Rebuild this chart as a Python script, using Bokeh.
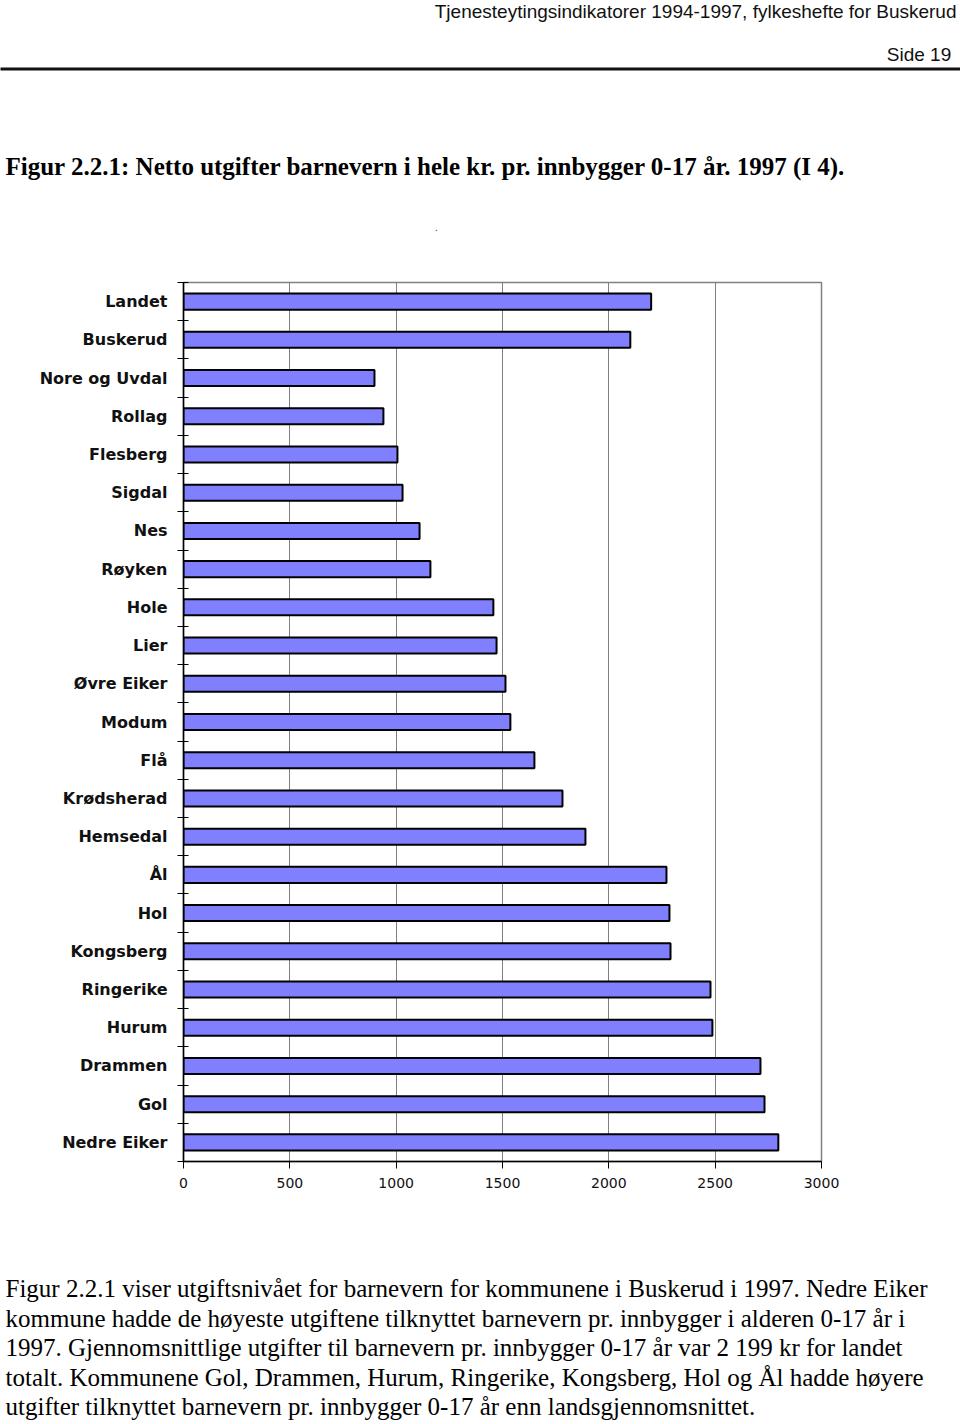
from bokeh.plotting import figure
from bokeh.models import Range1d, FixedTicker, ColumnDataSource, Label
from bokeh.embed import file_html
from bokeh.resources import INLINE

categories = ["Landet", "Buskerud", "Nore og Uvdal", "Rollag", "Flesberg", "Sigdal", "Nes",
              "Røyken", "Hole", "Lier", "Øvre Eiker", "Modum", "Flå", "Krødsherad", "Hemsedal",
              "Ål", "Hol", "Kongsberg", "Ringerike", "Hurum", "Drammen", "Gol", "Nedre Eiker"]
values = [2199, 2101, 898, 940, 1006, 1030, 1110, 1161, 1457, 1472, 1514, 1537, 1650, 1782,
          1890, 2271, 2285, 2290, 2478, 2487, 2713, 2732, 2797]
x_ticks = [0, 500, 1000, 1500, 2000, 2500, 3000]

header_text = "Tjenesteytingsindikatorer 1994-1997, fylkeshefte for Buskerud"
page_text = "Side  19"
title_text = "Figur 2.2.1: Netto utgifter barnevern i hele kr. pr. innbygger 0-17 år. 1997 (I 4)."
body_lines = [
    "Figur 2.2.1 viser utgiftsnivået for barnevern for kommunene i Buskerud i 1997.  Nedre Eiker",
    "kommune hadde de høyeste utgiftene tilknyttet barnevern pr. innbygger i alderen 0-17 år i",
    "1997.  Gjennomsnittlige utgifter til barnevern pr. innbygger 0-17 år var  2 199 kr for landet",
    "totalt. Kommunene Gol, Drammen, Hurum, Ringerike, Kongsberg, Hol og Ål hadde høyere",
    "utgifter  tilknyttet barnevern pr. innbygger 0-17 år enn landsgjennomsnittet.",
]

n = len(categories)
src = ColumnDataSource(dict(y=list(range(n)), v=values, name=categories))

p = figure(frame_width=638, frame_height=879,
           min_border_left=183, min_border_right=139, min_border_top=282, min_border_bottom=263,
           x_range=Range1d(0, 3000), y_range=Range1d(n - 0.5, -0.5),
           output_backend="svg", toolbar_location=None)
p.hbar(y="y", right="v", left=0, height=0.42, source=src,
       fill_color="#8080FF", line_color="#000000", line_width=2)

p.ygrid.visible = False
p.xgrid.ticker = FixedTicker(ticks=x_ticks)
p.xgrid.grid_line_color = "#808080"
p.xgrid.grid_line_width = 1
p.outline_line_color = "#808080"
p.outline_line_width = 1.5
p.background_fill_color = "white"
p.border_fill_color = "white"

p.yaxis.ticker = FixedTicker(ticks=list(range(n)), minor_ticks=[i - 0.5 for i in range(n + 1)])
p.yaxis.major_label_overrides = {i: c for i, c in enumerate(categories)}
p.yaxis.major_tick_in = 0
p.yaxis.major_tick_out = 0
p.yaxis.minor_tick_in = 5
p.yaxis.minor_tick_out = 6
p.yaxis.minor_tick_line_color = "#000000"
p.yaxis.axis_line_color = "#000000"
p.yaxis.axis_line_width = 1.5
p.yaxis.major_label_standoff = 10
p.yaxis.major_label_text_font = "DejaVu Sans"
p.yaxis.major_label_text_font_style = "bold"
p.yaxis.major_label_text_font_size = "16px"
p.yaxis.major_label_text_color = "#111111"

p.xaxis.ticker = FixedTicker(ticks=x_ticks)
p.xaxis.major_tick_in = 0
p.xaxis.major_tick_out = 7
p.xaxis.major_tick_line_color = "#000000"
p.xaxis.axis_line_color = "#000000"
p.xaxis.axis_line_width = 1.5
p.xaxis.major_label_standoff = 9
p.xaxis.major_label_text_font = "DejaVu Sans"
p.xaxis.major_label_text_font_size = "14px"
p.xaxis.major_label_text_color = "#111111"


def canvas_label(side, x, y, text, **kw):
    p.add_layout(Label(x=x, y=y, x_units="canvas", y_units="canvas", text=text, **kw), side)


# header
canvas_label("above", 956, 0, header_text, text_align="right", text_baseline="top",
             text_font="Liberation Sans", text_font_size="19px", text_color="#111111")
canvas_label("above", 956, 54, page_text, text_align="right", text_baseline="alphabetic",
             text_font="Liberation Sans", text_font_size="19px", text_color="#111111")
# horizontal rule under the page header (thin filled box of a blank label)
canvas_label("above", 0, 67, " ", text_align="left", text_baseline="top",
             text_font="Liberation Sans", text_font_size="1px",
             background_fill_color="#111111", background_fill_alpha=1.0,
             padding=(1, 960, 1, 1))
canvas_label("above", 5, 166, title_text, text_align="left", text_baseline="alphabetic",
             text_font="Liberation Serif", text_font_size="25px", text_font_style="bold",
             text_color="#000000")
canvas_label("above", 436, 226, ".", text_align="center", text_baseline="alphabetic",
             text_font="Liberation Sans", text_font_size="10px", text_color="#333333")

# footer
for i, line in enumerate(body_lines):
    canvas_label("below", 5, 1288 + 29.5 * i, line, text_align="left", text_baseline="alphabetic",
                 text_font="Liberation Serif", text_font_size="25px", text_color="#000000")

open("out.html", "w").write(file_html(p, INLINE))
